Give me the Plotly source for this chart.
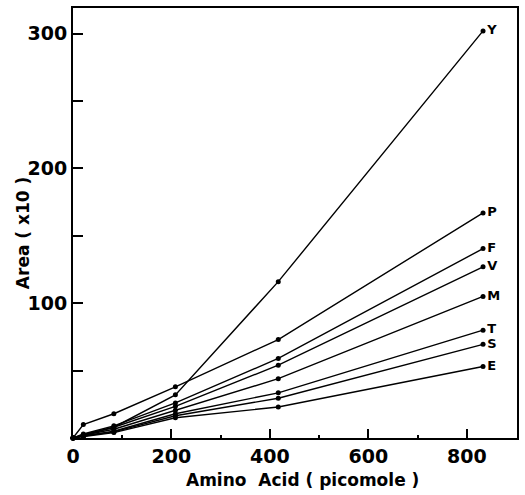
import plotly.graph_objects as go

amino_pmol = [0, 21, 83, 208, 417, 833]
series_names = ["Y", "P", "F", "V", "M", "T", "S", "E"]
area_Y = [0, 2, 8, 32, 116, 302]
area_P = [0, 10, 18, 38, 73, 167]
area_F = [0, 3, 9, 26, 59, 140.5]
area_V = [0, 2.5, 8, 23.5, 54, 127]
area_M = [0, 2, 6.5, 20.5, 44, 105]
area_T = [0, 1.5, 5, 18, 33.5, 80]
area_S = [0, 1.5, 4.5, 16.5, 29.5, 69.5]
area_E = [0, 1, 4, 15, 23, 53]
all_series = [area_Y, area_P, area_F, area_V, area_M, area_T, area_S, area_E]

font_fam = "DejaVu Sans, Liberation Sans, Arial, sans-serif"

fig = go.Figure()
for name, vals in zip(series_names, all_series):
    labels = [""] * (len(vals) - 1) + [name]
    fig.add_trace(go.Scatter(
        x=amino_pmol, y=vals, mode="lines+markers+text",
        text=labels, textposition="middle right",
        textfont=dict(family=font_fam, size=13, color="black", weight="bold"),
        line=dict(color="black", width=1.4),
        marker=dict(color="black", size=5),
        showlegend=False, cliponaxis=False,
    ))

fig.update_layout(
    width=525, height=495,
    margin=dict(l=73, r=7, t=6, b=57),
    paper_bgcolor="white", plot_bgcolor="white",
    font=dict(family=font_fam, color="black", weight="bold"),
    xaxis=dict(
        range=[0, 902], showgrid=False, zeroline=False,
        showline=True, linecolor="black", linewidth=2, mirror=True,
        tickvals=[0, 200, 400, 600, 800], ticks="inside", ticklen=9, tickwidth=2,
        tickcolor="black", tickfont=dict(size=19, family=font_fam, weight="bold"),
        minor=dict(tickvals=[100, 300, 500, 700], ticks="inside", ticklen=3, tickcolor="black"),
    ),
    yaxis=dict(
        range=[0, 319], showgrid=False, zeroline=False,
        showline=True, linecolor="black", linewidth=2, mirror=True,
        tickvals=[0, 50, 100, 150, 200, 250, 300],
        ticktext=["", "", "100", "", "200", "", "300"],
        ticks="inside", ticklen=10, tickwidth=2, tickcolor="black",
        tickfont=dict(size=19, family=font_fam, weight="bold"),
    ),
    annotations=[
        dict(
            text="Area ( x10 )", xref="paper", yref="paper", x=-0.112, y=0.477,
            xanchor="center", yanchor="middle", textangle=-90, showarrow=False,
            font=dict(size=17, family=font_fam, weight="bold", color="black"),
        ),
        dict(
            text="Amino  Acid ( picomole )", xref="paper", yref="paper", x=0.518, y=-0.097,
            xanchor="center", yanchor="middle", showarrow=False,
            font=dict(size=17, family=font_fam, weight="bold", color="black"),
        ),
    ],
)

fig.write_html("out.html")
